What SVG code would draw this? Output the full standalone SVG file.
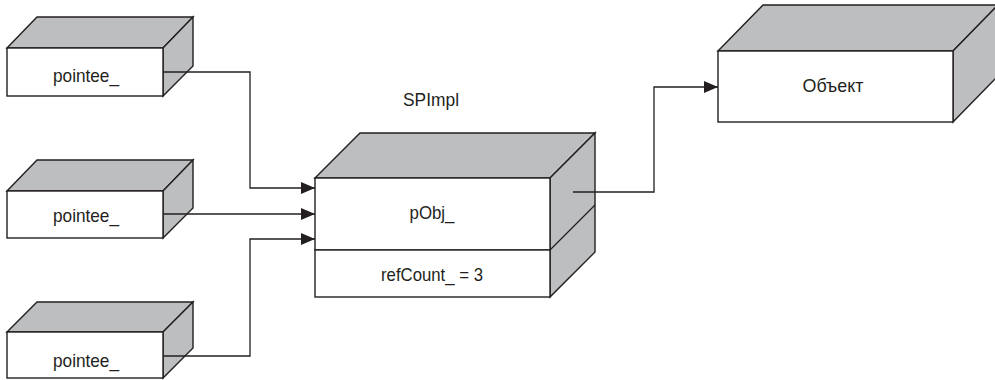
<svg xmlns="http://www.w3.org/2000/svg" width="995" height="380" viewBox="0 0 995 380">
<defs>
<style>
.face{fill:#ffffff;stroke:#231f20;stroke-width:1.4;stroke-linejoin:miter}
.side{fill:#bcbec0;stroke:#231f20;stroke-width:1.4;stroke-linejoin:miter}
.ln{fill:none;stroke:#231f20;stroke-width:1.3}
.conn{fill:none;stroke:#231f20;stroke-width:1.3;marker-end:url(#arr)}
.t{font-family:"Liberation Sans",Arial,sans-serif;font-size:18.5px;fill:#231f20;text-anchor:middle}
</style>
<marker id="arr" viewBox="0 0 14 12" refX="14" refY="6" markerWidth="14" markerHeight="12" markerUnits="userSpaceOnUse" orient="auto">
<path d="M0,0 L14,6 L0,12 Z" fill="#231f20"/>
</marker>
</defs>
<rect width="995" height="380" fill="#ffffff"/>

<g id="pointee1">
<polygon class="side" points="7,48 37,17 193,17 163,48"/>
<polygon class="side" points="163,48 193,17 193,66 163,96"/>
<rect class="face" x="7" y="48" width="156" height="48"/>
<text class="t" x="86" y="82" textLength="66" lengthAdjust="spacingAndGlyphs">pointee_</text>
</g>

<g id="pointee2">
<polygon class="side" points="7,191 37,160 193,160 163,191"/>
<polygon class="side" points="163,191 193,160 193,208 163,238"/>
<rect class="face" x="7" y="191" width="156" height="47"/>
<text class="t" x="86" y="222" textLength="66" lengthAdjust="spacingAndGlyphs">pointee_</text>
</g>

<g id="pointee3">
<polygon class="side" points="7,332 37,302 193,302 163,332"/>
<polygon class="side" points="163,332 193,302 193,348 163,378"/>
<rect class="face" x="7" y="332" width="156" height="46"/>
<text class="t" x="86" y="367" textLength="66" lengthAdjust="spacingAndGlyphs">pointee_</text>
</g>

<g id="spimpl">
<text class="t" x="431" y="106" textLength="56" lengthAdjust="spacingAndGlyphs">SPImpl</text>
<polygon class="side" points="315,178 360,133 595,133 550,178"/>
<polygon class="side" points="550,178 595,133 595,252 550,297"/>
<line class="ln" x1="550" y1="250" x2="595" y2="205"/>
<rect class="face" x="315" y="178" width="235" height="72"/>
<rect class="face" x="315" y="250" width="235" height="47"/>
<text class="t" x="432" y="219" textLength="45" lengthAdjust="spacingAndGlyphs">pObj_</text>
<text class="t" x="432" y="281" textLength="102" lengthAdjust="spacingAndGlyphs">refCount_ = 3</text>
</g>

<g id="object">
<polygon class="side" points="718,51 763,5 998,5 953,51"/>
<polygon class="side" points="953,51 998,5 998,76 953,122"/>
<rect class="face" x="718" y="51" width="235" height="71"/>
<text class="t" x="833" y="92" textLength="61" lengthAdjust="spacingAndGlyphs">Объект</text>
</g>

<g id="connectors">
<polyline class="conn" points="163,72 250,72 250,188 315,188"/>
<polyline class="conn" points="163,214 315,214"/>
<polyline class="conn" points="163,356 250,356 250,239 315,239"/>
<polyline class="conn" points="573,192 654,192 654,87 718,87"/>
</g>
</svg>
